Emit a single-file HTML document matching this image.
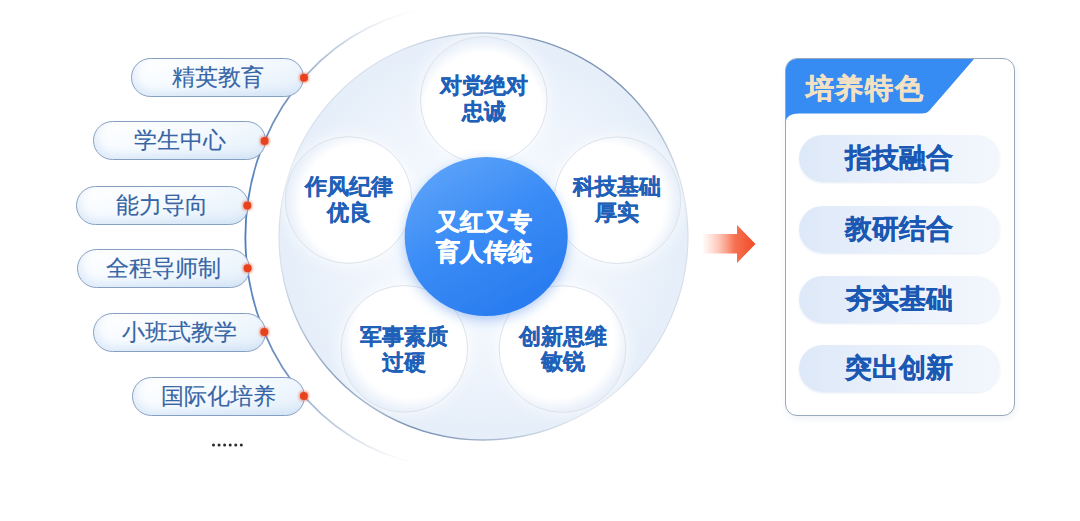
<!DOCTYPE html>
<html><head><meta charset="utf-8">
<style>
html,body{margin:0;padding:0;}
body{width:1080px;height:521px;overflow:hidden;background:#fff;position:relative;font-family:"Liberation Sans",sans-serif;}
svg.bg{position:absolute;left:0;top:0;}
.pill{position:absolute;width:171px;height:37px;border:1px solid #86a0c2;border-radius:20px;
  background:linear-gradient(165deg,#ffffff 0%,#f7fbff 40%,#e2eefa 100%);box-shadow:inset 3px -4px 8px rgba(165,198,236,0.3);
  color:#3765a5;font-size:22.6px;-webkit-text-stroke:0.15px #3765a5;line-height:37px;text-align:center;box-sizing:content-box;}
.ct{position:absolute;width:140px;text-align:center;color:#1f61b8;font-weight:900;font-size:22px;line-height:25.5px;-webkit-text-stroke:0.28px #1f61b8;}
.cc{position:absolute;width:160px;text-align:center;color:#fff;font-weight:900;font-size:24.4px;line-height:29.5px;-webkit-text-stroke:0.6px #fff;}
.panel{position:absolute;left:784.5px;top:58px;width:228px;height:355.5px;border:1.2px solid #99a9bd;border-radius:12px;background:#fff;overflow:hidden;box-shadow:1px 3px 6px rgba(120,150,190,0.12);}
.rp{position:absolute;left:13.5px;width:200.5px;height:47px;border-radius:24px;box-shadow:0 1px 2px rgba(150,180,220,0.25);
  background:linear-gradient(90deg,#dde8f8 0%,#edf3fc 60%,#f3f7fd 100%);
  color:#1a58b4;font-weight:900;font-size:27px;line-height:47px;text-align:center;-webkit-text-stroke:0.3px #1a58b4;}
</style></head>
<body>
<svg class="bg" width="1080" height="521" viewBox="0 0 1080 521">
  <defs>
    <linearGradient id="arcg" x1="0" y1="0" x2="0" y2="1">
      <stop offset="0" stop-color="#c5d2e2" stop-opacity="0"/>
      <stop offset="0.08" stop-color="#b3c3d8" stop-opacity="0.8"/>
      <stop offset="0.2" stop-color="#7593bf" stop-opacity="1"/>
      <stop offset="0.5" stop-color="#4a7cc2" stop-opacity="1"/>
      <stop offset="0.8" stop-color="#7593bf" stop-opacity="1"/>
      <stop offset="0.92" stop-color="#b3c3d8" stop-opacity="0.8"/>
      <stop offset="1" stop-color="#c5d2e2" stop-opacity="0"/>
    </linearGradient>
    <radialGradient id="paleg" cx="483.5" cy="236.5" r="204" gradientUnits="userSpaceOnUse">
      <stop offset="0" stop-color="#fbfdff"/>
      <stop offset="0.55" stop-color="#f1f6fd"/>
      <stop offset="1" stop-color="#e5eef9"/>
    </radialGradient>
    <linearGradient id="seg1" gradientUnits="userSpaceOnUse" x1="397.1" y1="52.1" x2="686.0" y2="208.2"><stop offset="0" stop-color="#7f97b8" stop-opacity="0"/><stop offset="0.35" stop-color="#7f97b8" stop-opacity="1"/><stop offset="0.65" stop-color="#7f97b8" stop-opacity="1"/><stop offset="1" stop-color="#7f97b8" stop-opacity="0"/></linearGradient>
    <linearGradient id="seg2" gradientUnits="userSpaceOnUse" x1="569.9" y1="420.9" x2="281.0" y2="264.8"><stop offset="0" stop-color="#7f97b8" stop-opacity="0"/><stop offset="0.35" stop-color="#7f97b8" stop-opacity="1"/><stop offset="0.65" stop-color="#7f97b8" stop-opacity="1"/><stop offset="1" stop-color="#7f97b8" stop-opacity="0"/></linearGradient>
    <linearGradient id="blueg" x1="0.2" y1="0" x2="0.8" y2="1">
      <stop offset="0" stop-color="#5ea4f9"/>
      <stop offset="0.45" stop-color="#3a8cf6"/>
      <stop offset="1" stop-color="#2779ee"/>
    </linearGradient>
    <linearGradient id="arrowg" x1="0" y1="0" x2="1" y2="0">
      <stop offset="0" stop-color="#ff9a7e" stop-opacity="0.05"/>
      <stop offset="0.3" stop-color="#fb8060" stop-opacity="0.45"/>
      <stop offset="0.6" stop-color="#f5623f" stop-opacity="0.9"/>
      <stop offset="1" stop-color="#f04a26"/>
    </linearGradient>
    <filter id="bsh" x="-30%" y="-30%" width="160%" height="160%">
      <feGaussianBlur in="SourceAlpha" stdDeviation="6" result="b"/>
      <feOffset in="b" dx="0" dy="4" result="o"/>
      <feFlood flood-color="#2a6ee0" flood-opacity="0.35"/>
      <feComposite in2="o" operator="in" result="s"/>
      <feMerge><feMergeNode in="s"/><feMergeNode in="SourceGraphic"/></feMerge>
    </filter>
    <radialGradient id="wg0" cx="483.7" cy="111.8" r="75" gradientUnits="userSpaceOnUse"><stop offset="0" stop-color="#ffffff"/><stop offset="0.78" stop-color="#ffffff"/><stop offset="1" stop-color="#e6eef9"/></radialGradient>
    <radialGradient id="wg1" cx="360.1" cy="203.1" r="75" gradientUnits="userSpaceOnUse"><stop offset="0" stop-color="#ffffff"/><stop offset="0.78" stop-color="#ffffff"/><stop offset="1" stop-color="#e6eef9"/></radialGradient>
    <radialGradient id="wg2" cx="605.9" cy="203.3" r="75" gradientUnits="userSpaceOnUse"><stop offset="0" stop-color="#ffffff"/><stop offset="0.78" stop-color="#ffffff"/><stop offset="1" stop-color="#e6eef9"/></radialGradient>
    <radialGradient id="wg3" cx="411.2" cy="339.1" r="75" gradientUnits="userSpaceOnUse"><stop offset="0" stop-color="#ffffff"/><stop offset="0.78" stop-color="#ffffff"/><stop offset="1" stop-color="#e6eef9"/></radialGradient>
    <radialGradient id="wg4" cx="555.6" cy="339.3" r="75" gradientUnits="userSpaceOnUse"><stop offset="0" stop-color="#ffffff"/><stop offset="0.78" stop-color="#ffffff"/><stop offset="1" stop-color="#e6eef9"/></radialGradient>
    <filter id="ws" x="-30%" y="-30%" width="160%" height="160%">
      <feGaussianBlur in="SourceAlpha" stdDeviation="7" result="b"/>
      <feFlood flood-color="#ffffff" flood-opacity="0.85"/>
      <feComposite in2="b" operator="in" result="s"/>
      <feMerge><feMergeNode in="s"/><feMergeNode in="SourceGraphic"/></feMerge>
    </filter>
  </defs>
  <!-- outer arc -->
  <path d="M 418 10.3 A 211.9 230.7 0 0 0 418 463.7" fill="none" stroke="url(#arcg)" stroke-width="1.8"/>
  <!-- pale circle -->
  <ellipse cx="483.5" cy="236.5" rx="204.5" ry="203.5" fill="url(#paleg)" stroke="#d6dee9" stroke-width="1.1"/>
  <path d="M 397.07 52.07 A 204.5 203.5 0 0 1 686.01 208.18" fill="none" stroke="url(#seg1)" stroke-width="1.4"/>
  <path d="M 569.93 420.93 A 204.5 203.5 0 0 1 280.99 264.82" fill="none" stroke="url(#seg2)" stroke-width="1.4"/>
  <!-- white circles -->
  <g filter="url(#ws)">
    <circle cx="483.75" cy="99.80" r="63.4" fill="url(#wg0)" stroke="#dce2ea" stroke-width="1"/>
    <circle cx="348.50" cy="200.00" r="63.4" fill="url(#wg1)" stroke="#dce2ea" stroke-width="1"/>
    <circle cx="617.50" cy="200.20" r="63.4" fill="url(#wg2)" stroke="#dce2ea" stroke-width="1"/>
    <circle cx="404.30" cy="348.90" r="63.4" fill="url(#wg3)" stroke="#dce2ea" stroke-width="1"/>
    <circle cx="562.50" cy="349.10" r="63.4" fill="url(#wg4)" stroke="#dce2ea" stroke-width="1"/>
    </g>
  <!-- center circle -->
  <ellipse cx="486.2" cy="236.5" rx="81.5" ry="79.6" fill="url(#blueg)" filter="url(#bsh)"/>
  <!-- arrow -->
  <path d="M 703 234 L 737 234 L 737 225 L 755.5 244 L 737 263 L 737 253.5 L 703 253.5 Z" fill="url(#arrowg)"/>
</svg>

<div class="pill" style="left:131px;top:58px;">精英教育</div>
<div class="pill" style="left:93px;top:121px;">学生中心</div>
<div class="pill" style="left:75.5px;top:186px;">能力导向</div>
<div class="pill" style="left:77px;top:249px;">全程导师制</div>
<div class="pill" style="left:93px;top:313px;">小班式教学</div>
<div class="pill" style="left:132px;top:377px;">国际化培养</div>

<svg class="bg" width="1080" height="521" viewBox="0 0 1080 521">
  <defs><filter id="rdot2" x="-100%" y="-100%" width="300%" height="300%"><feMorphology in="SourceGraphic" operator="dilate" radius="1.2" result="d"/><feGaussianBlur in="d" stdDeviation="1" result="b"/><feComponentTransfer in="b" result="c"><feFuncA type="linear" slope="0.45"/></feComponentTransfer><feMerge><feMergeNode in="c"/><feMergeNode in="SourceGraphic"/></feMerge></filter></defs>
  <g fill="#e8431f" filter="url(#rdot2)">
    <circle cx="304" cy="77.7" r="4"/>
    <circle cx="264.6" cy="141.1" r="4"/>
    <circle cx="247.3" cy="205.5" r="4"/>
    <circle cx="247.6" cy="268.3" r="4"/>
    <circle cx="264.3" cy="332" r="4"/>
    <circle cx="303.9" cy="396" r="4"/>
  </g>
</svg>

<svg class="bg" width="1080" height="521" style="position:absolute;left:0;top:0"><g fill="#2a2a2a"><circle cx="213.50" cy="445" r="1.5"/><circle cx="219.06" cy="445" r="1.5"/><circle cx="224.62" cy="445" r="1.5"/><circle cx="230.18" cy="445" r="1.5"/><circle cx="235.74" cy="445" r="1.5"/><circle cx="241.30" cy="445" r="1.5"/></g></svg>

<div class="ct" style="left:413.5px;top:73px;">对党绝对<br>忠诚</div>
<div class="ct" style="left:279px;top:174px;">作风纪律<br>优良</div>
<div class="ct" style="left:547.3px;top:174.3px;">科技基础<br>厚实</div>
<div class="ct" style="left:333.5px;top:324px;">军事素质<br>过硬</div>
<div class="ct" style="left:492.7px;top:323.5px;">创新思维<br>敏锐</div>
<div class="cc" style="left:403.5px;top:207px;">又红又专<br>育人传统</div>

<div class="panel">
  <svg width="230" height="70" style="position:absolute;left:0;top:0;">
    <path d="M 0 0 L 188 0 L 143 52 Q 140.5 54.5 135.5 54.5 L 13 54.5 Q 1 54.5 0 62 Z" fill="#378cf4"/>
  </svg>
  <div style="position:absolute;left:20px;top:12px;font-size:28px;letter-spacing:1.9px;line-height:36px;font-weight:900;color:#f3e1c3;-webkit-text-stroke:0.5px #f3e1c3;">培养特色</div>
  <div class="rp" style="top:76px;">指技融合</div>
  <div class="rp" style="top:146.5px;">教研结合</div>
  <div class="rp" style="top:216.5px;">夯实基础</div>
  <div class="rp" style="top:286px;">突出创新</div>
</div>
</body></html>
